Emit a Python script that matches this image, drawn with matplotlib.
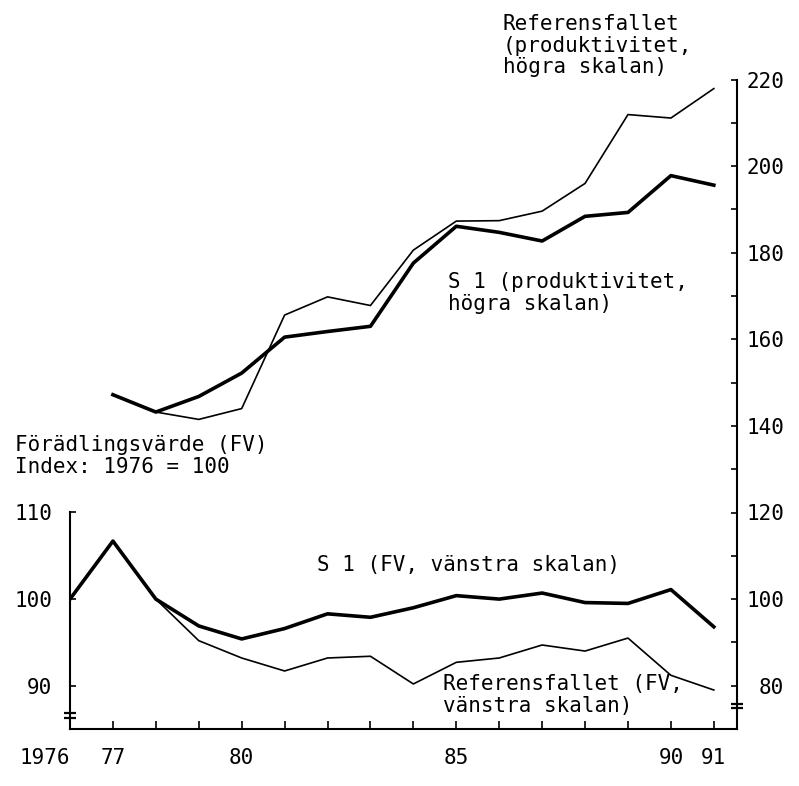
import matplotlib
matplotlib.use("Agg")
import matplotlib.pyplot as plt
from matplotlib import font_manager
from matplotlib.transforms import blended_transform_factory
from matplotlib.ticker import MultipleLocator

# ---- data ----
years = list(range(1976, 1992))
s1_fv = [100.0, 106.7, 100.0, 96.9, 95.4, 96.6, 98.3, 97.9,
         99.0, 100.4, 100.0, 100.7, 99.6, 99.5, 101.1, 96.8]
ref_fv = [100.0, 106.7, 100.0, 95.2, 93.2, 91.7, 93.2, 93.4,
          90.2, 92.7, 93.2, 94.7, 94.0, 95.5, 91.2, 89.5]

prod_years = list(range(1977, 1992))
s1_prod = [147.2, 143.2, 146.8, 152.2, 160.5, 161.8, 163.0, 177.6,
           186.1, 184.7, 182.7, 188.4, 189.3, 197.8, 195.6]
ref_prod = [147.2, 143.2, 141.5, 144.0, 165.6, 169.8, 167.8, 180.6,
            187.3, 187.4, 189.6, 196.0, 211.9, 211.1, 217.9]

xtick_years = [1976, 1977, 1980, 1985, 1990, 1991]
xtick_labels = ["1976", "77", "80", "85", "90", "91"]
left_ticks = [90, 100, 110]
right_ticks = [80, 100, 120, 140, 160, 180, 200, 220]

FONT = "DejaVu Sans Mono"
plt.rcParams["font.family"] = [FONT, "DejaVu Sans"]

# font for the tick numbers: a narrow sans if available
try:
    font_manager.findfont("Liberation Sans Narrow", fallback_to_default=False)
    NUM_FONT, NUM_SIZE = "Liberation Sans Narrow", 17
except Exception:
    NUM_FONT, NUM_SIZE = "DejaVu Sans Mono", 15

W, H = 799, 786
fig = plt.figure(figsize=(W / 100, H / 100), dpi=100)
ax = fig.add_axes([70 / W, 1 - 729 / H, 667 / W, 649.5 / H])
axr = ax.twinx()

ax.set_xlim(1976, 1991.54)
ax.set_ylim(85, 160)
axr.set_ylim(70, 220)

# spines
for s in ["top", "right"]:
    ax.spines[s].set_visible(False)
for s in ["top", "left", "bottom"]:
    axr.spines[s].set_visible(False)
ax.spines["left"].set_bounds(85, 110)
for sp in [ax.spines["left"], ax.spines["bottom"], axr.spines["right"]]:
    sp.set_linewidth(1.5)

# x ticks
ax.set_xticks(years)
ax.set_xticklabels([xtick_labels[xtick_years.index(y)] if y in xtick_years else ""
                    for y in years])
ax.tick_params(axis="x", direction="in", length=5.5, width=1.2, pad=14)
ax.get_xticklabels()[0].set_horizontalalignment("right")

# left y ticks
ax.set_yticks(left_ticks)
ax.tick_params(axis="y", direction="in", length=4, width=1.2, pad=13)

# right y ticks
axr.set_yticks(right_ticks)
axr.yaxis.set_minor_locator(MultipleLocator(10))
axr.tick_params(axis="y", which="both", direction="in", length=4, width=1.2,
                pad=34)
for lab in axr.get_yticklabels():
    lab.set_horizontalalignment("right")

for lab in ax.get_xticklabels() + ax.get_yticklabels() + axr.get_yticklabels():
    lab.set_fontfamily([NUM_FONT, "DejaVu Sans"])
    lab.set_fontsize(NUM_SIZE)

# lines
ax.plot(years, ref_fv, color="black", lw=1.2)
ax.plot(years, s1_fv, color="black", lw=2.6)
axr.plot(prod_years, ref_prod, color="black", lw=1.2)
axr.plot(prod_years, s1_prod, color="black", lw=2.6)

# axis break marks
tl = blended_transform_factory(ax.transAxes, ax.transData)
for yv in (86.3, 86.9):
    ax.plot([0], [yv], marker="_", ms=8, mew=1.6, color="black",
            transform=tl, clip_on=False)
tr = blended_transform_factory(axr.transAxes, axr.transData)
for yv in (74.8, 75.7):
    axr.plot([1], [yv], marker="_", ms=8, mew=1.6, color="black",
             transform=tr, clip_on=False)

# annotations
def ftext(x, y, s, **kw):
    fig.text(x / W, 1 - y / H, s, ha="left", va="top", fontsize=15,
             linespacing=1.1, **kw)

ftext(503, 14, "Referensfallet\n(produktivitet,\nhögra skalan)")
ftext(448, 272, "S 1 (produktivitet,\nhögra skalan)")
ftext(15, 435, "Förädlingsvärde (FV)\nIndex: 1976 = 100")
ftext(317, 555, "S 1 (FV, vänstra skalan)")
ftext(443, 674, "Referensfallet (FV,\nvänstra skalan)")

fig.savefig("out.png", dpi=100)
